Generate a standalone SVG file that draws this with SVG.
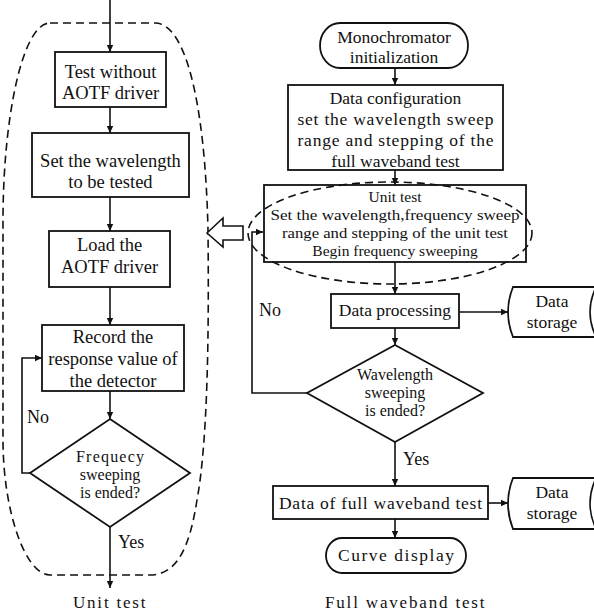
<svg xmlns="http://www.w3.org/2000/svg" width="594" height="615" viewBox="0 0 594 615">
<style>
.box{fill:#fff;stroke:#111;stroke-width:1.8}
.dash{fill:none;stroke:#111;stroke-width:1.6;stroke-dasharray:8,5}
.ln{fill:none;stroke:#111;stroke-width:1.6}
text{font-family:"Liberation Serif","Times New Roman",serif;fill:#111;text-anchor:middle}
.l{font-size:18.5px}
.r{font-size:17.5px}
.s{font-size:15.5px}
.d{font-size:16px}
.lab{font-size:18px;text-anchor:start}
.cap{font-size:17px;letter-spacing:1.5px}
</style>
<defs>
<marker id="ah" markerWidth="8" markerHeight="8" refX="7" refY="4" orient="auto" markerUnits="userSpaceOnUse">
<path d="M0,0.8 L7,4 L0,7.2 Z" fill="#111"/>
</marker>
</defs>
<rect width="594" height="615" fill="#fff"/>

<g id="unit-test-group">
<path class="dash" d="M50,23 L155,23 C185,23 205,100 208,230 C209,330 208,440 197,500 C190,545 178,575 150,575 L50,575 C25,575 3,510 3,440 L3,220 C3,120 22,23 50,23 Z"/>
</g>

<g id="connectors">
<path class="ln" d="M110,0 L110,52" marker-end="url(#ah)"/>
<path class="ln" d="M110,107 L110,133" marker-end="url(#ah)"/>
<path class="ln" d="M110,197 L110,231" marker-end="url(#ah)"/>
<path class="ln" d="M110,287 L110,325" marker-end="url(#ah)"/>
<path class="ln" d="M110,391 L110,419" marker-end="url(#ah)"/>
<path class="ln" d="M110,527 L110,588" marker-end="url(#ah)"/>
<path class="ln" d="M30,473 L22,473 L22,358 L42,358" marker-end="url(#ah)"/>
<path class="ln" d="M395,68 L395,85" marker-end="url(#ah)"/>
<path class="ln" d="M395,170 L395,185" marker-end="url(#ah)"/>
<path class="ln" d="M395,262 L395,294" marker-end="url(#ah)"/>
<path class="ln" d="M459,312 L508,312" marker-end="url(#ah)"/>
<path class="ln" d="M395,328 L395,345" marker-end="url(#ah)"/>
<path class="ln" d="M307,393 L252,393 L252,232 L263,232" marker-end="url(#ah)"/>
<path class="ln" d="M395,442 L395,486" marker-end="url(#ah)"/>
<path class="ln" d="M488,503 L508,503" marker-end="url(#ah)"/>
<path class="ln" d="M395,519 L395,538" marker-end="url(#ah)"/>
<polygon points="207,233 223,218 223,226 243,226 243,240 223,240 223,247" fill="#fff" stroke="#111" stroke-width="1.6"/>
<text class="lab" x="27" y="423">No</text>
<text class="lab" x="118" y="548">Yes</text>
<text class="lab" x="259" y="316">No</text>
<text class="lab" x="403" y="465">Yes</text>
</g>

<g id="n-test-without">
<rect class="box" x="55" y="52" width="111" height="55"/>
<text class="l" x="110.5" y="78">Test without</text>
<text class="l" x="110.5" y="99">AOTF driver</text>
</g>
<g id="n-set-wavelength">
<rect class="box" x="32" y="133" width="157" height="64"/>
<text class="l" x="110.5" y="167">Set the wavelength</text>
<text class="l" x="110.5" y="188">to be tested</text>
</g>
<g id="n-load-driver">
<rect class="box" x="49" y="231" width="121" height="56"/>
<text class="l" x="109.5" y="251">Load the</text>
<text class="l" x="109.5" y="273">AOTF driver</text>
</g>
<g id="n-record">
<rect class="box" x="42" y="325" width="142" height="66"/>
<text class="l" x="113" y="343">Record the</text>
<text class="l" x="113" y="365">response value of</text>
<text class="l" x="113" y="387">the detector</text>
</g>
<g id="n-freq-ended">
<polygon class="box" points="110,419 190,473 110,527 30,473"/>
<text class="d" x="110" y="462" textLength="68" lengthAdjust="spacing">Frequecy</text>
<text class="d" x="110" y="480">sweeping</text>
<text class="d" x="110" y="498">is ended?</text>
</g>
<g id="cap-unit">
<text class="cap" x="110" y="608" textLength="74" lengthAdjust="spacing">Unit test</text>
</g>

<g id="n-mono">
<rect class="box" x="320" y="23" width="148" height="45" rx="20" ry="22.5"/>
<text class="r" x="394" y="43">Monochromator</text>
<text class="r" x="394" y="63">initialization</text>
</g>
<g id="n-data-config">
<rect class="box" x="288" y="85" width="215" height="85"/>
<text class="r" x="395.5" y="104">Data configuration</text>
<text class="r" x="395.5" y="125" textLength="196" lengthAdjust="spacing">set the wavelength sweep</text>
<text class="r" x="395.5" y="146" textLength="196" lengthAdjust="spacing">range and stepping of the</text>
<text class="r" x="395.5" y="167">full waveband test</text>
</g>
<g id="n-unit-test">
<rect class="box" x="264" y="185" width="262" height="77"/>
<ellipse class="dash" cx="390" cy="233" rx="142" ry="51"/>
<text class="s" x="395" y="202">Unit test</text>
<text class="s" x="395" y="220" textLength="249" lengthAdjust="spacingAndGlyphs">Set the wavelength,frequency sweep</text>
<text class="s" x="395" y="238" textLength="226" lengthAdjust="spacingAndGlyphs">range and stepping of the unit test</text>
<text class="s" x="395" y="256">Begin frequency sweeping</text>
</g>
<g id="n-data-proc">
<rect class="box" x="331" y="294" width="128" height="34"/>
<text class="r" x="395" y="316">Data processing</text>
</g>
<g id="n-storage1">
<path class="box" d="M600,287 L513,287 Q503,312 513,337 L600,337"/>
<path class="ln" d="M596,287 Q584,312 596,337"/>
<text class="r" x="552" y="307">Data</text>
<text class="r" x="552" y="328">storage</text>
</g>
<g id="n-wl-ended">
<polygon class="box" points="395,345 483,393 395,442 307,393"/>
<text class="d" x="395" y="380">Wavelength</text>
<text class="d" x="395" y="398">sweeping</text>
<text class="d" x="395" y="416">is ended?</text>
</g>
<g id="n-full-data">
<rect class="box" x="273" y="486" width="215" height="33"/>
<text class="r" x="380.5" y="509" textLength="203" lengthAdjust="spacing">Data of full waveband test</text>
</g>
<g id="n-storage2">
<path class="box" d="M600,478 L513,478 Q503,503.5 513,529 L600,529"/>
<path class="ln" d="M596,478 Q584,503.5 596,529"/>
<text class="r" x="552" y="498">Data</text>
<text class="r" x="552" y="519">storage</text>
</g>
<g id="n-curve">
<rect class="box" x="326" y="538" width="140" height="35" rx="16" ry="17.5"/>
<text class="r" x="396" y="561" textLength="116" lengthAdjust="spacing">Curve display</text>
</g>
<g id="cap-full">
<text class="cap" x="405.5" y="608" textLength="161" lengthAdjust="spacing">Full waveband test</text>
</g>
</svg>
